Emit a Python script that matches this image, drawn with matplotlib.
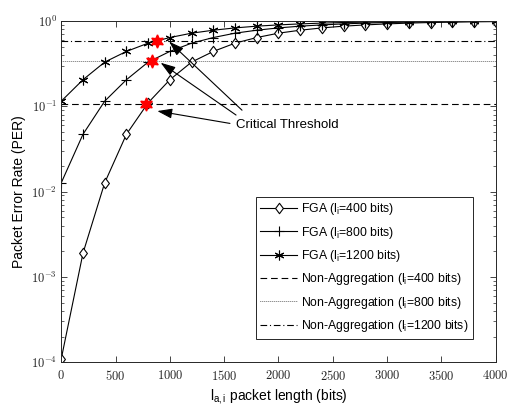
import numpy as np
import matplotlib
matplotlib.use("Agg")
import matplotlib.pyplot as plt
from matplotlib.font_manager import FontProperties
from matplotlib.path import Path
from matplotlib.ticker import FuncFormatter, FixedLocator, LogLocator, NullFormatter

plt.rcParams['font.family'] = ['Liberation Sans', 'DejaVu Sans']
plt.rcParams['mathtext.fontset'] = 'cm'
plt.rcParams['mathtext.rm'] = 'Liberation Sans'
plt.rcParams['mathtext.it'] = 'Liberation Sans:italic'
plt.rcParams['mathtext.bf'] = 'Liberation Sans:bold'

# ---- data ----
la_bits = [0, 200, 400, 600, 800, 1000, 1200, 1400, 1600, 1800, 2000,
           2200, 2400, 2600, 2800, 3000, 3200, 3400, 3600, 3800, 4000]
per_fga_400 = [1.1e-4, 1.9e-3, 0.0127, 0.047, 0.11, 0.205, 0.33, 0.44, 0.55, 0.64, 0.72,
               0.78, 0.83, 0.87, 0.90, 0.925, 0.945, 0.96, 0.97, 0.978, 0.984]
per_fga_800 = [0.0127, 0.047, 0.115, 0.205, 0.33, 0.44, 0.55, 0.64, 0.72, 0.78, 0.83,
               0.87, 0.90, 0.925, 0.945, 0.96, 0.97, 0.978, 0.984, 0.989, 0.992]
per_fga_1200 = [0.115, 0.205, 0.33, 0.44, 0.55, 0.64, 0.72, 0.78, 0.83, 0.87, 0.90,
                0.925, 0.945, 0.96, 0.97, 0.978, 0.984, 0.989, 0.992, 0.994, 0.996]
per_nonagg = [0.106, 0.34, 0.58]          # l_i = 400, 800, 1200
crit_x = [782, 837, 880]
crit_y = [0.106, 0.34, 0.58]
x_ticks = [0, 500, 1000, 1500, 2000, 2500, 3000, 3500, 4000]
y_ticks = [1e-4, 1e-3, 1e-2, 1e-1, 1e0]

legend_labels = [r'FGA (l$_{\mathrm{i}}$=400 bits)',
                 r'FGA (l$_{\mathrm{i}}$=800 bits)',
                 r'FGA (l$_{\mathrm{i}}$=1200 bits)',
                 r'Non-Aggregation (l$_{\mathrm{i}}$=400 bits)',
                 r'Non-Aggregation (l$_{\mathrm{i}}$=800 bits)',
                 r'Non-Aggregation (l$_{\mathrm{i}}$=1200 bits)']

fig = plt.figure(figsize=(5.09, 4.07), dpi=100)
ax = fig.add_axes([0.1204, 0.1101, 0.9739 - 0.1204, 0.9484 - 0.1101])

diamond = Path([(0, 1), (0.75, 0), (0, -1), (-0.75, 0), (0, 1)],
               [Path.MOVETO, Path.LINETO, Path.LINETO, Path.LINETO, Path.CLOSEPOLY])

lw = 0.8
h1, = ax.plot(la_bits, per_fga_400, color='black', lw=lw, marker=diamond, ms=7.5,
              mfc='white', mec='black', mew=0.8, label=legend_labels[0])
h2, = ax.plot(la_bits, per_fga_800, color='black', lw=lw, marker='+', ms=7.5,
              mew=0.8, label=legend_labels[1])
h3, = ax.plot(la_bits, per_fga_1200, color='black', lw=lw, marker=(6, 2, 0), ms=7,
              mew=0.8, label=legend_labels[2])
h4 = ax.axhline(per_nonagg[0], color='black', lw=0.8, dashes=(6, 3.5), label=legend_labels[3])
h5 = ax.axhline(per_nonagg[1], color='black', lw=0.6, dashes=(0.8, 1.6), label=legend_labels[4])
h6 = ax.axhline(per_nonagg[2], color='black', lw=0.8, dashes=(6, 2.5, 1, 2.5), label=legend_labels[5])

ax.plot(crit_x, crit_y, linestyle='none', marker=(6, 1, 0), ms=9.5, mfc='red', mec='red', zorder=5)

# annotations
txt_x, txt_y = 1611, 0.060
arrow_tips = [(884, 0.088), (915, 0.324), (994, 0.572)]
arrow_tails = [(1553, 0.063), (1609, 0.079), (1664, 0.090)]
for (tx, ty), (sx, sy) in zip(arrow_tips, arrow_tails):
    ax.annotate('', xy=(tx, ty), xytext=(sx, sy),
                arrowprops=dict(arrowstyle='-|>,head_length=0.9,head_width=0.3',
                                color='black', lw=0.8, shrinkA=0, shrinkB=0))
ax.text(txt_x, txt_y, 'Critical Threshold', fontsize=9.5, ha='left', va='center',
        color='black')

ax.set_yscale('log')
ax.set_xlim(0, 4000)
ax.set_ylim(1e-4, 1)
ax.xaxis.set_major_locator(FixedLocator(x_ticks))
ax.xaxis.set_major_formatter(FuncFormatter(lambda v, p: r'$%d$' % v))
ax.yaxis.set_major_locator(FixedLocator(y_ticks))
ax.yaxis.set_major_formatter(FuncFormatter(lambda v, p: r'$10^{%d}$' % round(np.log10(v))))
ax.yaxis.set_minor_locator(LogLocator(base=10, subs=np.arange(2, 10)))
ax.yaxis.set_minor_formatter(NullFormatter())

ax.tick_params(which='both', direction='in', top=True, right=True, colors='#262626')
ax.tick_params(which='major', length=4, width=0.6, labelsize=9)
ax.tick_params(which='minor', length=2, width=0.5)
ax.tick_params(axis='x', pad=5)
ax.tick_params(axis='y', pad=3)
for s in ax.spines.values():
    s.set_color('#262626')
    s.set_linewidth(0.7)

lab_fp = FontProperties(family='Liberation Sans', size=10, math_fontfamily='custom')
ax.set_xlabel(r'l$_{\mathrm{a,i}}$ packet length (bits)', fontproperties=lab_fp, labelpad=3)
ax.set_ylabel('Packet Error Rate (PER)', fontproperties=lab_fp, labelpad=4)

leg_fp = FontProperties(family='Liberation Sans', size=8.8, math_fontfamily='custom')
leg = ax.legend(handles=[h1, h2, h3, h4, h5, h6], loc='lower right',
                bbox_to_anchor=(0.948, 0.068), borderaxespad=0, prop=leg_fp,
                fancybox=False, frameon=True, edgecolor='#262626', framealpha=1,
                handlelength=3.0, handletextpad=0.3, labelspacing=0.6,
                borderpad=0.4, markerscale=1.0)
leg.get_frame().set_linewidth(0.7)

fig.savefig('out.png', dpi=100)
